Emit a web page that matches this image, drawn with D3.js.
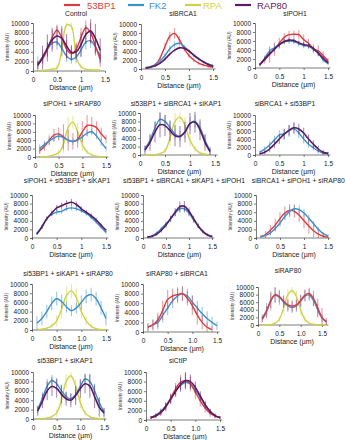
<!DOCTYPE html>
<html><head><meta charset="utf-8">
<script src="https://cdn.jsdelivr.net/npm/d3@7"></script>
<style>body{margin:0;background:#fff}svg{display:block;font-family:Arial,"Liberation Sans",sans-serif}</style>
</head><body><svg id="c" width="346" height="440"></svg>
<script>
// ---------- data ----------
const seriesNames = ["53BP1", "FK2", "RPA", "RAP80"];
const seriesColors = ["#dc3a41", "#3d8fca", "#cfd24a", "#5a1b62"];
const yTicks = [0, 2000, 4000, 6000, 8000, 10000];
const xTicks = [0, 0.5, 1, 1.5];
const dist14 = [0.1,0.2,0.3,0.4,0.5,0.6,0.7,0.8,0.9,1.0,1.1,1.2,1.3,1.4];
const dist15 = [0.1,0.2,0.3,0.4,0.5,0.6,0.7,0.8,0.9,1.0,1.1,1.2,1.3,1.4,1.5];
const dist16 = [0.1,0.2,0.3,0.4,0.5,0.6,0.7,0.8,0.9,1.0,1.1,1.2,1.3,1.4,1.5,1.6];
const panelTitles = ["Control","siBRCA1","siPOH1","siPOH1 + siRAP80","si53BP1 + siBRCA1 + siKAP1","siBRCA1 + si53BP1","siPOH1 + si53BP1 + siKAP1","si53BP1 + siBRCA1 + siKAP1 + siPOH1","siBRCA1 + siPOH1 + siRAP80","si53BP1 + siKAP1 + siRAP80","siRAP80 + siBRCA1","siRAP80","si53BP1 + siKAP1","siCtIP"];

// Control
const ctrl_53BP1 = [1500,2500,4500,7000,8500,7000,4500,3600,4500,7000,9000,8000,5200,2400];
const ctrl_53BP1_err = [600,900,1500,1500,1200,1800,2000,1500,1500,2000,1500,2000,2000,1500];
const ctrl_FK2 = [1500,3000,4500,5800,6000,4700,3100,2400,2900,4400,6000,6300,5000,3000];
const ctrl_FK2_err = [1500,1500,1500,1200,1500,1500,1200,900,1000,1500,1500,1500,1500,1500];
const ctrl_RPA = [100,100,200,400,600,4400,9600,9300,3000,900,350,250,200,200];
const ctrl_RPA_err = [100,100,200,400,800,1500,600,800,1500,600,300,200,100,100];
const ctrl_RAP80 = [1200,2800,4800,6500,7300,6800,5200,3900,4000,5500,7600,8300,6800,4300];
const ctrl_RAP80_err = [800,2500,2800,2500,2000,2500,2500,1500,1500,2500,2000,2500,3000,2500];
// siBRCA1
const brca_53BP1 = [300,500,1000,2500,5000,7300,7900,6500,4500,3000,2000,1300,900,600,400];
const brca_53BP1_err = [200,200,300,500,800,1000,1200,900,600,500,500,400,400,300,200];
const brca_FK2 = [300,500,900,1800,3000,4500,5400,5700,5000,4000,3000,2200,1600,1100,800];
const brca_FK2_err = [200,200,300,400,500,700,700,500,400,300,300,300,200,200,200];
const brca_RAP80 = [200,400,700,1300,2200,3300,4200,4700,4600,4000,3100,2300,1600,1000,600];
const brca_RAP80_err = [100,100,200,200,300,300,300,300,300,300,300,200,200,200,100];
// siPOH1
const poh_53BP1 = [800,1800,3000,4200,5500,6800,7400,7500,7400,6300,5500,4300,3800,2800,1600];
const poh_53BP1_err = [300,800,1800,1500,1200,1000,800,800,1000,1200,1000,1000,1200,1000,600];
const poh_FK2 = [800,2200,3800,4500,5200,5800,6000,5900,5400,5000,4800,4200,3300,1800,1000];
const poh_FK2_err = [300,600,800,800,700,600,600,600,600,600,600,600,600,500,400];
const poh_RAP80 = [700,2000,3200,4200,5200,5900,6200,6100,5600,5200,5000,4300,3300,2200,1200];
const poh_RAP80_err = [300,400,500,500,500,500,500,500,500,500,500,500,500,400,300];
// siPOH1 + siRAP80
const pr_53BP1 = [1500,2500,4000,5200,5500,4800,4000,3700,4200,6000,7500,7500,7000,5500,4300];
const pr_53BP1_err = [800,1000,1200,1500,1500,3000,2500,2000,2000,2500,2500,2000,1500,1500,1000];
const pr_FK2 = [2000,3000,3800,4500,5000,4600,4000,3700,4000,4800,5700,6000,5000,3500,2000];
const pr_FK2_err = [1000,800,800,800,800,800,800,800,800,800,800,800,800,800,700];
const pr_RPA = [0,0,200,500,1000,3000,7000,8300,6000,3000,1200,500,200,100,0];
const pr_RPA_err = [0,0,100,300,600,2000,2500,1500,2000,1500,600,300,100,100,0];
// si53BP1 + siBRCA1 + siKAP1
const sbk_FK2 = [1500,3500,6500,8500,8000,6500,5000,4500,5500,7500,8000,6500,3500,1000];
const sbk_FK2_err = [800,1200,1500,1500,1500,1500,1200,1200,1500,1500,1500,1500,1200,800];
const sbk_RPA = [0,0,100,300,1000,4000,8000,9000,7000,3500,1500,500,200,100];
const sbk_RPA_err = [0,0,100,300,600,2000,2000,1200,2000,1500,700,300,100,100];
const sbk_RAP80 = [1200,3000,5500,7200,7000,5800,4600,4400,5500,7500,7800,6000,3000,800];
const sbk_RAP80_err = [1000,2000,2500,3000,2500,2500,2500,2500,2500,2500,2500,2500,2000,1000];
// siBRCA1 + si53BP1
const bs_FK2 = [700,1500,2500,3800,5000,5300,6000,6600,5500,4000,2700,1800,1000,500,300];
const bs_FK2_err = [500,700,900,1000,1200,1300,1500,1500,1300,1100,900,700,600,500,400];
const bs_RAP80 = [300,700,1500,2700,4000,5200,6200,6800,6500,5500,4000,2700,1500,700,400];
const bs_RAP80_err = [300,500,800,1000,1200,1300,1300,1300,1300,1300,1200,1000,800,600,400];
// siPOH1 + si53BP1 + siKAP1
const psk_FK2 = [1000,2700,4500,5500,6000,6200,6800,7000,6800,6300,5700,4800,3700,2500,1300];
const psk_FK2_err = [300,400,500,500,600,600,600,600,600,500,500,500,400,400,300];
const psk_RAP80 = [1000,2500,4500,5800,7000,7500,8000,8300,7800,6800,6000,5200,4200,3000,1800];
const psk_RAP80_err = [300,400,500,600,700,700,800,800,700,600,500,500,500,400,300];
// si53BP1 + siBRCA1 + siKAP1 + siPOH1
const sbkp_FK2 = [300,500,1200,2200,3300,4500,5800,6800,6800,5800,4200,2800,1600,800,400];
const sbkp_FK2_err = [200,300,400,500,600,700,800,900,900,800,700,600,400,300,200];
const sbkp_RAP80 = [200,400,900,1800,3000,4500,6000,7300,7400,6200,4500,2800,1500,700,300];
const sbkp_RAP80_err = [200,300,400,500,600,700,900,1200,1200,900,700,500,400,300,200];
// siBRCA1 + siPOH1 + siRAP80
const bpr_53BP1 = [300,800,1800,3000,4500,5800,6400,6200,5300,4000,2800,1700,900,400,200];
const bpr_53BP1_err = [300,800,1200,1500,1500,1500,1500,1500,1500,1800,1800,1500,1200,800,400];
const bpr_FK2 = [300,600,1200,2200,3500,5000,6200,6800,6600,5800,4600,3300,2000,1000,500];
const bpr_FK2_err = [200,300,500,600,800,900,1000,1000,1000,900,800,700,500,400,300];
// si53BP1 + siKAP1 + siRAP80
const skr_FK2 = [1500,2500,4000,5800,6800,6200,5000,4200,4800,6000,7300,7700,6800,4800,2500];
const skr_FK2_err = [1500,1500,1500,1500,1500,1500,1200,1200,1200,1500,1500,1500,1500,1500,1500];
const skr_RPA = [100,200,400,900,2000,4500,7500,8500,7000,4000,2000,800,300,100,50];
const skr_RPA_err = [100,200,300,600,1200,2000,2000,1500,2000,1500,1000,500,200,100,50];
// siRAP80 + siBRCA1
const rb_53BP1 = [1000,1500,2500,4500,6800,7500,7800,8000,7000,5500,3500,2000,1000,500];
const rb_53BP1_err = [800,1000,1500,2000,2000,1500,1500,1500,1500,2000,2000,1500,1000,700];
const rb_FK2 = [1000,1500,2000,3500,5000,6500,7500,8000,7500,6200,5000,3800,2800,2000,1300];
const rb_FK2_err = [800,1200,1500,1500,1500,1500,1500,1500,1500,1500,1500,1500,1500,1200,900];
// siRAP80
const rap_53BP1 = [1500,3500,6500,8000,7500,6300,5300,5000,5300,6500,7900,8300,7000,4500,2000,900];
const rap_53BP1_err = [800,1500,2000,2000,1500,1500,1500,1500,1500,1500,1500,1500,2000,2500,2500,1000];
const rap_FK2 = [1800,3800,6300,7800,7300,6000,5000,4600,5000,6300,7600,7900,6500,4000,1800,800];
const rap_FK2_err = [1000,2000,2500,2000,2000,1500,1500,1500,1500,1500,1500,1500,1500,1500,1000,500];
const rap_RPA = [0,0,100,500,1500,4500,8000,9000,7500,4000,1500,500,200,100,0,0];
const rap_RPA_err = [0,0,100,300,800,1500,1500,1000,1500,1500,800,300,100,100,0,0];
// si53BP1 + siKAP1
const sk_FK2 = [2000,4500,7000,8200,7500,6000,4800,4300,5200,7000,8500,8000,6000,3500,1500];
const sk_FK2_err = [800,1200,1500,1200,1200,1200,1000,1000,1200,1200,1200,1500,1500,1200,800];
const sk_RPA = [0,100,200,500,1300,4000,8000,9200,7000,3500,1300,500,200,100,0];
const sk_RPA_err = [0,100,100,300,800,1500,1500,800,1500,1200,600,300,100,100,0];
const sk_RAP80 = [1700,3800,6000,6900,6500,5300,4300,4000,5000,6500,7500,7000,4800,2500,1300];
const sk_RAP80_err = [1000,1500,2000,2000,2000,2000,1500,1500,2000,2000,2000,2500,2500,2000,1000];
// siCtIP
const ctip_53BP1 = [500,800,1500,2700,4500,6500,7900,8200,7500,5800,4000,2500,1400,800,500];
const ctip_53BP1_err = [300,400,600,800,1000,1200,1500,1500,1500,1500,1200,1000,700,500,300];
const ctip_FK2 = [500,1000,1800,3000,4500,6000,7200,7800,7500,6300,4700,3000,1700,900,500];
const ctip_FK2_err = [300,400,600,700,800,900,1000,1000,1000,900,800,700,500,400,300];
const ctip_RAP80 = [500,900,1600,2800,4300,6000,7400,8200,8000,6800,5000,3200,1800,900,500];
const ctip_RAP80_err = [300,400,600,800,1000,1200,1500,1800,1500,1200,1000,800,600,400,300];

// ---------- assemble (series index: 0=53BP1,1=FK2,2=RPA,3=RAP80) ----------
function S(k, x, v, e) { return {k, x, v, e}; }
const panelSeries = [
  [S(2,dist14,ctrl_RPA,ctrl_RPA_err), S(1,dist14,ctrl_FK2,ctrl_FK2_err), S(0,dist14,ctrl_53BP1,ctrl_53BP1_err), S(3,dist14,ctrl_RAP80,ctrl_RAP80_err)],
  [S(0,dist15,brca_53BP1,brca_53BP1_err), S(1,dist15,brca_FK2,brca_FK2_err), S(3,dist15,brca_RAP80,brca_RAP80_err)],
  [S(0,dist15,poh_53BP1,poh_53BP1_err), S(1,dist15,poh_FK2,poh_FK2_err), S(3,dist15,poh_RAP80,poh_RAP80_err)],
  [S(2,dist15,pr_RPA,pr_RPA_err), S(0,dist15,pr_53BP1,pr_53BP1_err), S(1,dist15,pr_FK2,pr_FK2_err)],
  [S(2,dist14,sbk_RPA,sbk_RPA_err), S(1,dist14,sbk_FK2,sbk_FK2_err), S(3,dist14,sbk_RAP80,sbk_RAP80_err)],
  [S(1,dist15,bs_FK2,bs_FK2_err), S(3,dist15,bs_RAP80,bs_RAP80_err)],
  [S(1,dist15,psk_FK2,psk_FK2_err), S(3,dist15,psk_RAP80,psk_RAP80_err)],
  [S(1,dist15,sbkp_FK2,sbkp_FK2_err), S(3,dist15,sbkp_RAP80,sbkp_RAP80_err)],
  [S(0,dist15,bpr_53BP1,bpr_53BP1_err), S(1,dist15,bpr_FK2,bpr_FK2_err)],
  [S(2,dist15,skr_RPA,skr_RPA_err), S(1,dist15,skr_FK2,skr_FK2_err)],
  [S(1,dist15,rb_FK2,rb_FK2_err), S(0,dist14,rb_53BP1,rb_53BP1_err)],
  [S(2,dist16,rap_RPA,rap_RPA_err), S(1,dist16,rap_FK2,rap_FK2_err), S(0,dist16,rap_53BP1,rap_53BP1_err)],
  [S(2,dist15,sk_RPA,sk_RPA_err), S(1,dist15,sk_FK2,sk_FK2_err), S(3,dist15,sk_RAP80,sk_RAP80_err)],
  [S(1,dist15,ctip_FK2,ctip_FK2_err), S(0,dist15,ctip_53BP1,ctip_53BP1_err), S(3,dist15,ctip_RAP80,ctip_RAP80_err)]
];

// ---------- layout: [x0, x1.5, yTop, yBottom, xMax, titleX, titleY, oneDecimal] ----------
const layout = [
  [33,105,23,71,1.5,76,16,false],[141,213,24,69,1.55,183,16,false],[255,328,23,68,1.55,295,16,false],
  [35,106,115,157,1.55,72,106,false],[140,215,113,155,1.55,176,106,false],[255,328,115,155,1.55,285,106,false],
  [32,106,195,238,1.55,67,183,false],[143,212,195,238,1.55,184,183,false],[256,328,195,238,1.55,299,183,false],
  [32,106,284,330,1.55,68,276,true],[143,217,284,332,1.55,177,276,true],[258,322,287,325,1.65,288,273,true],
  [33,104,372,419,1.55,65,363,true],[146,220,372,420,1.55,178,363,true]
];

const svg = d3.select("#c");
const axisCol = "#444";

panelTitles.forEach((title, i) => {
  const [x0, x15, yT, yB, xMax, tx, ty, oneDec] = layout[i];
  const x = d3.scaleLinear().domain([0, 1.5]).range([x0, x15]);
  const y = d3.scaleLinear().domain([0, 10000]).range([yB, yT]);
  const g = svg.append("g");

  const tt = g.append("text").attr("x", tx).attr("y", ty).attr("text-anchor", "middle")
    .attr("font-size", 6.8).attr("fill", "#222").text(title);
  // keep titles inside the canvas
  const bb = tt.node().getBBox();
  if (bb.x + bb.width > 345) tt.attr("x", tx - (bb.x + bb.width - 345));
  if (bb.x < 1) tt.attr("x", tx + (1 - bb.x));

  const ya = g.append("g").attr("transform", `translate(${x0},0)`)
    .call(d3.axisLeft(y).tickValues(yTicks).tickSize(2).tickPadding(2).tickFormat(d3.format("d")));
  const xa = g.append("g").attr("transform", `translate(0,${yB})`)
    .call(d3.axisBottom(x).tickValues(xTicks).tickSize(2).tickPadding(4)
      .tickFormat(d => d === 0 ? "0" : (oneDec ? d3.format(".1f")(d) : String(d))));
  xa.select(".domain").attr("d", `M${x0},0H${x(xMax)}`);
  [ya, xa].forEach(a => {
    a.selectAll("path,line").attr("stroke", axisCol).attr("stroke-width", 0.7);
    a.selectAll("text").attr("font-size", 6.5).attr("fill", "#222").attr("font-family", "Arial,'Liberation Sans',sans-serif");
  });

  g.append("text").attr("x", (x0 + x15) / 2 + 2).attr("y", yB + 19).attr("text-anchor", "middle")
    .attr("font-size", 7).attr("fill", "#222").text("Distance (µm)");
  g.append("text").attr("transform", `translate(${x0 - 24},${(yT + yB) / 2}) rotate(-90)`)
    .attr("text-anchor", "middle").attr("font-size", 4.6).attr("fill", "#333").text("Intensity (AU)");

  const line = d3.line().x(d => x(d[0])).y(d => y(d[1])).curve(d3.curveCatmullRom.alpha(0.5));
  panelSeries[i].forEach(s => {
    const pts = s.x.map((xv, j) => [xv, s.v[j], s.e[j]]);
    const col = seriesColors[s.k];
    g.append("g").selectAll("line").data(pts.filter(p => p[2] > 0)).join("line")
      .attr("x1", d => x(d[0])).attr("x2", d => x(d[0]))
      .attr("y1", d => y(Math.max(0, d[1] - d[2]))).attr("y2", d => y(d[1] + d[2]))
      .attr("stroke", col).attr("stroke-opacity", 0.5).attr("stroke-width", 1.1);
    g.append("path").datum(pts).attr("d", line).attr("fill", "none")
      .attr("stroke", col).attr("stroke-width", s.k === 3 ? 1.6 : 1.4).attr("stroke-linejoin", "round");
  });
});

// ---------- legend ----------
const legendPos = [[64, 87], [128, 149], [185, 203], [235, 257]];
seriesNames.forEach((n, i) => {
  const [lx, tx] = legendPos[i];
  svg.append("line").attr("x1", lx).attr("x2", lx + 16).attr("y1", 5).attr("y2", 5)
    .attr("stroke", seriesColors[i]).attr("stroke-width", 2.2);
  svg.append("text").attr("x", tx).attr("y", 8.5).attr("font-size", 9.5)
    .attr("fill", seriesColors[i]).text(n);
});
</script></body></html>
